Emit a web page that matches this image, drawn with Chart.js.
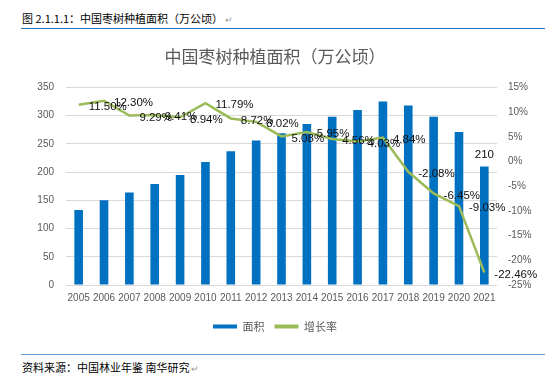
<!DOCTYPE html>
<html>
<head>
<meta charset="utf-8">
<script src="https://cdn.jsdelivr.net/npm/chart.js@4/dist/chart.umd.min.js"></script>
<style>
  body { margin: 0; background: #fff; width: 550px; height: 378px; position: relative; overflow: hidden; font-family: "Noto Sans CJK SC", sans-serif; }
  .cap { position: absolute; left: 22px; font-size: 11px; color: #000; white-space: nowrap; }
  .cap .mk { color: #999; font-size: 9px; margin-left: 2px; }
  .rule { position: absolute; left: 21px; width: 524px; height: 1px; }
  #chart { position: absolute; left: 0; top: 38px; }
</style>
</head>
<body>
<div class="cap" style="top:10px">图 2.1.1.1：中国枣树种植面积（万公顷）<span class="mk">↵</span></div>
<div class="rule" style="top:28px;background:#1f6fbf"></div>
<canvas id="chart" width="550" height="304"></canvas>
<div class="rule" style="top:354px;background:#5b9bd5"></div>
<div class="cap" style="top:359px">资料来源：中国林业年鉴 南华研究<span class="mk">↵</span></div>

<script>
// 中国枣树种植面积 2005-2021
const anios = ["2005", "2006", "2007", "2008", "2009", "2010", "2011", "2012", "2013",
  "2014", "2015", "2016", "2017", "2018", "2019", "2020", "2021"];
const area = [133, 150, 164, 179, 195, 218, 237, 256, 269, 285, 298, 310, 325, 318, 298, 271, 210];
const crecimiento = [11.50, 12.30, 9.29, 9.41, 8.94, 11.79, 8.72, 8.02, 5.08, 5.95, 4.56, 4.03,
  4.84, -2.08, -6.45, -9.03, -22.46];
const ticksIzq = [0, 50, 100, 150, 200, 250, 300, 350];
const ticksDer = [-25, -20, -15, -10, -5, 0, 5, 10, 15];

const azul = "#0070c0";
const verde = "#9bbb59";
const gris = "#595959";

// etiquetas de datos: porcentajes a la derecha de cada punto, y el último valor de barras
const etiquetas = {
  id: "etiquetas",
  afterDatasetsDraw(chart) {
    const ctx = chart.ctx;
    ctx.save();
    ctx.font = "11.5px 'Liberation Sans', sans-serif";
    ctx.fillStyle = "#111";
    ctx.textBaseline = "middle";
    ctx.textAlign = "left";
    chart.getDatasetMeta(1).data.forEach((p, i) => {
      ctx.fillText(crecimiento[i].toFixed(2) + "%", p.x + 10, p.y + 2);
    });
    const barras = chart.getDatasetMeta(0).data;
    const ultima = barras[barras.length - 1];
    ctx.textAlign = "center";
    ctx.fillText(String(area[area.length - 1]), ultima.x, ultima.y - 12);
    ctx.restore();
  }
};

new Chart(document.getElementById("chart"), {
  data: {
    labels: anios,
    datasets: [
      {
        type: "bar",
        label: "面积",
        data: area,
        backgroundColor: azul,
        yAxisID: "y",
        order: 2,
        categoryPercentage: 1,
        barPercentage: 0.34
      },
      {
        type: "line",
        label: "增长率",
        data: crecimiento,
        borderColor: verde,
        backgroundColor: verde,
        borderWidth: 2.5,
        pointRadius: 0,
        tension: 0,
        yAxisID: "y1",
        order: 1
      }
    ]
  },
  options: {
    responsive: false,
    animation: false,
    layout: { padding: { left: 0, right: 0, top: 0, bottom: 0 } },
    plugins: {
      title: {
        display: true,
        text: "中国枣树种植面积（万公顷）",
        color: gris,
        font: { family: "'Noto Sans CJK SC'", size: 17, weight: "normal" },
        padding: { top: 8, bottom: 21 }
      },
      legend: {
        position: "bottom",
        labels: {
          color: gris,
          font: { family: "'Noto Sans CJK SC'", size: 11 },
          boxWidth: 24,
          boxHeight: 4,
          padding: 10,
          sort: (a, b) => a.datasetIndex - b.datasetIndex,
          generateLabels(chart) {
            return Chart.defaults.plugins.legend.labels.generateLabels(chart).map((l) => {
              l.lineWidth = 0;
              return l;
            });
          }
        }
      },
      tooltip: { enabled: false }
    },
    scales: {
      x: {
        grid: { display: false, drawTicks: false },
        border: { display: false },
        ticks: { color: gris, font: { family: "'Liberation Sans'", size: 10 }, padding: 7, maxRotation: 0, autoSkip: false }
      },
      y: {
        position: "left",
        min: 0,
        max: 350,
        afterBuildTicks(axis) { axis.ticks = ticksIzq.map((v) => ({ value: v })); },
        afterFit(axis) { axis.width = 66; },
        grid: { color: "#d9d9d9", drawTicks: false },
        border: { display: false },
        ticks: { color: gris, font: { family: "'Liberation Sans'", size: 10 }, padding: 12 }
      },
      y1: {
        position: "right",
        min: -25,
        max: 15,
        afterBuildTicks(axis) { axis.ticks = ticksDer.map((v) => ({ value: v })); },
        afterFit(axis) { axis.width = 53; },
        grid: { display: false, drawTicks: false },
        border: { display: false },
        ticks: {
          color: gris,
          font: { family: "'Liberation Sans'", size: 10 },
          padding: 11,
          callback: (v) => v + "%"
        }
      }
    }
  },
  plugins: [etiquetas]
});
</script>
</body>
</html>
